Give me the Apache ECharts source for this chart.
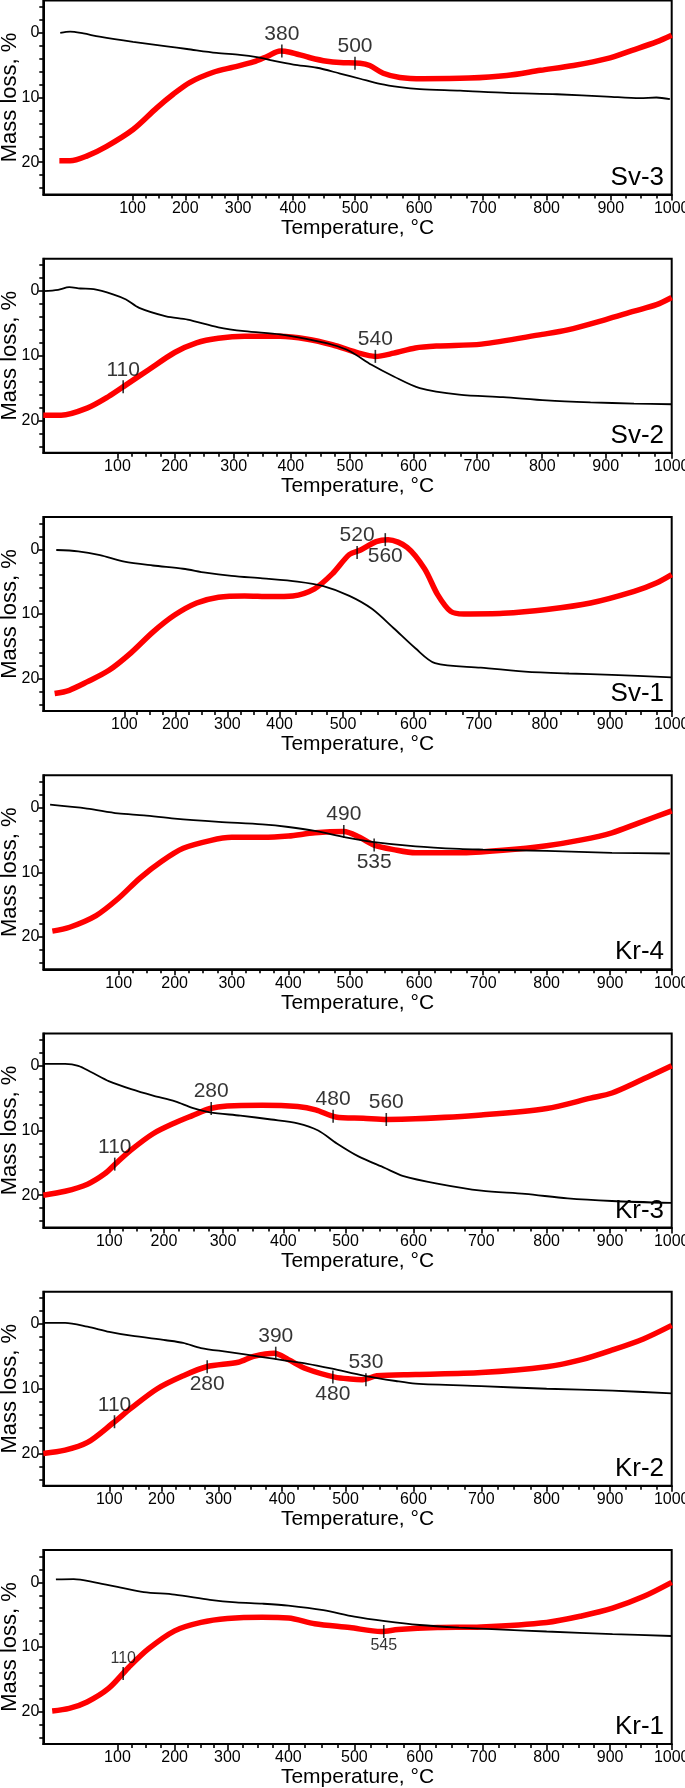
<!DOCTYPE html>
<html>
<head>
<meta charset="utf-8">
<script src="https://cdn.jsdelivr.net/npm/echarts@6/dist/echarts.min.js"></script>
<style>
html,body{margin:0;padding:0;background:#fff;}
#chart{width:685px;height:1788px;}
</style>
</head>
<body>
<div id="chart"></div>
<script>
// ---------------- DATA ----------------
const tempLabels = [100, 200, 300, 400, 500, 600, 700, 800, 900, 1000];
const massTicks = [0, 10, 20];
const panelNames = ['Sv-3', 'Sv-2', 'Sv-1', 'Kr-4', 'Kr-3', 'Kr-2', 'Kr-1'];

// Temperature scale of each record (instrument time axis): where each temperature label sits, in 1/1000 of the axis length
const sv3Scale = [142, 226, 310, 397, 496, 598, 700, 801, 903, 1000];
const sv2Scale = [118, 209, 303, 394, 488, 589, 690, 794, 895, 1000];
const sv1Scale = [129, 210, 293, 376, 477, 589, 693, 798, 902, 1000];
const kr4Scale = [120, 209, 300, 390, 488, 598, 700, 801, 902, 1000];
const kr3Scale = [105, 192, 286, 382, 481, 589, 697, 801, 902, 1000];
const kr2Scale = [105, 188, 279, 380, 481, 589, 697, 801, 902, 1000];
const kr1Scale = [118, 209, 293, 390, 495, 599, 700, 801, 902, 1000];

// [temperature °C, mass loss %]
const sv3Mass = [[19,0],[30,-0.2],[45,0.1],[63,0.6],[101,1.4],[165,2.1],[203,2.5],[259,3.1],[303,3.4],[334,3.75],[364,4.3],[401,4.9],[439,5.4],[476,6.3],[508,7.1],[539,7.9],[570,8.4],[601,8.7],[664,8.95],[737,9.3],[816,9.5],[894,9.85],[948,10.1],[975,10.0],[997,10.25]];
const sv3Dta  = [[18,19.8],[30,19.8],[48,19.1],[71,17.55],[101,14.95],[146,11.6],[177,9.5],[209,7.65],[253,6.1],[291,5.3],[328,4.5],[353,3.65],[377,2.8],[395,3.0],[428,3.85],[455,4.4],[476,4.6],[508,4.7],[523,5.05],[544,6.25],[570,6.9],[606,7.1],[678,7.0],[737,6.6],[790,5.8],[842,5.05],[894,4.0],[935,2.7],[975,1.4],[1000,0.36]];
const sv3Marks = [[380,2.8,'380','top'],[500,4.7,'500','top']];

const sv2Mass = [[0,0],[20,-0.2],[35,-0.6],[50,-0.4],[68,-0.3],[94,0.5],[115,1.3],[138,2.6],[185,3.9],[222,4.4],[274,5.6],[319,6.2],[381,6.7],[426,7.4],[470,8.3],[500,9.3],[534,11.4],[569,13.2],[610,15.0],[672,16.0],[740,16.4],[807,16.9],[876,17.2],[943,17.4],[1000,17.5]];
const sv2Dta  = [[0,19.2],[24,19.2],[59,18.1],[88,16.3],[115,14.5],[154,12.2],[200,9.5],[237,8.0],[274,7.3],[319,7.0],[381,7.0],[426,7.4],[470,8.3],[514,9.6],[540,10.1],[569,9.6],[603,8.8],[638,8.5],[707,8.2],[800,6.7],[840,6.0],[900,4.4],[943,3.1],[977,2.1],[1000,1.0]];
const sv2Marks = [[110,14.8,'110','top'],[540,10.1,'540','top']];

const sv1Mass = [[16,0.1],[43,0.3],[70,0.9],[100,1.9],[156,2.5],[215,3.0],[258,3.6],[308,4.1],[367,4.5],[428,5.0],[469,5.7],[509,7.2],[541,9.2],[572,12.2],[603,15.3],[633,17.6],[703,18.3],[770,18.9],[837,19.2],[903,19.4],[1000,19.8]];
const sv1Dta  = [[14,22.3],[32,21.8],[54,20.5],[81,18.7],[113,16.0],[156,12.8],[198,10.2],[241,8.3],[283,7.4],[333,7.2],[383,7.3],[421,7.2],[455,6.1],[483,3.8],[509,0.8],[525,0.1],[547,-1.2],[564,-1.5],[591,-0.3],[617,3.0],[637,7.0],[657,9.6],[677,10.0],[737,9.9],[803,9.3],[870,8.3],[939,6.5],[975,5.2],[1000,3.9]];
const sv1Marks = [[520,0.5,'520','top'],[560,-1.5,'560','bottom']];

const kr4Mass = [[9,-0.45],[58,0.15],[99,0.9],[145,1.2],[200,1.7],[277,2.2],[354,2.6],[400,3.0],[443,3.6],[493,4.6],[532,5.3],[595,6.0],[663,6.4],[700,6.5],[800,6.7],[903,7.0],[997,7.1]];
const kr4Dta  = [[12,19.1],[35,18.5],[70,16.7],[99,14.1],[138,10.9],[177,8.3],[215,6.3],[262,5.1],[300,4.6],[354,4.6],[400,4.4],[443,3.9],[490,3.7],[514,4.6],[535,5.8],[563,6.5],[595,7.0],[663,7.0],[731,6.6],[800,5.9],[855,5.0],[903,3.9],[946,2.4],[1000,0.5]];
const kr4Marks = [[490,3.7,'490','top'],[535,5.8,'535','bottom']];

const kr3Mass = [[0,-0.3],[33,-0.3],[53,0.0],[73,1.0],[100,2.4],[140,3.6],[180,4.6],[219,5.5],[248,6.5],[278,7.2],[329,7.7],[380,8.3],[423,8.9],[456,10.0],[486,12.0],[519,14.0],[558,15.8],[584,17.0],[635,18.2],[700,19.3],[767,19.8],[833,20.5],[903,20.9],[1000,21.2]];
const kr3Dta  = [[0,20.0],[33,19.4],[67,18.3],[93,16.7],[112,15.1],[140,13.0],[180,10.5],[219,8.8],[248,7.7],[278,6.6],[307,6.2],[365,6.1],[423,6.3],[452,6.8],[484,7.9],[526,8.1],[561,8.3],[603,8.2],[700,7.6],[800,6.6],[869,5.0],[903,4.2],[946,2.4],[1000,0.0]];
const kr3Marks = [[110,15.2,'110','top'],[280,6.6,'280','top'],[480,7.8,'480','top'],[560,8.3,'560','top']];

const kr2Mass = [[0,-0.2],[33,-0.2],[67,0.4],[100,1.2],[142,1.8],[208,2.5],[238,2.9],[269,3.7],[314,4.3],[369,5.1],[403,5.6],[438,6.1],[479,6.9],[528,8.0],[574,8.8],[603,9.2],[700,9.6],[800,10.0],[904,10.3],[1000,10.7]];
const kr2Dta  = [[0,20.0],[33,19.5],[67,18.3],[107,15.3],[142,13.0],[192,10.0],[238,8.0],[279,6.6],[331,5.9],[355,5.0],[388,4.5],[410,5.5],[438,6.9],[483,8.2],[507,8.5],[525,8.6],[546,8.0],[603,7.8],[700,7.5],[800,6.6],[855,5.5],[904,4.0],[954,2.3],[1000,0.2]];
const kr2Marks = [[110,15.1,'110','top'],[280,6.6,'280','bottom'],[390,4.5,'390','top'],[480,8.2,'480','bottom'],[530,8.6,'530','top']];

const kr1Mass = [[17,-0.45],[41,-0.5],[71,0.05],[100,0.7],[146,1.5],[200,1.9],[267,2.7],[314,3.1],[357,3.3],[400,3.6],[453,4.3],[500,5.3],[547,6.0],[600,6.6],[662,7.0],[731,7.3],[800,7.6],[904,8.0],[1000,8.3]];
const kr1Dta  = [[12,19.9],[35,19.5],[59,18.5],[88,16.4],[119,13.2],[154,10.3],[200,7.5],[250,6.2],[300,5.6],[357,5.4],[400,5.5],[440,6.4],[493,7.0],[541,7.6],[567,7.3],[628,7.0],[697,6.9],[800,6.2],[855,5.2],[904,4.0],[954,2.2],[1000,0.0]];
const kr1Marks = [[110,14.1,'110','top'],[545,7.6,'545','bottom']];

// ---------------- BUILD ----------------
const panels = [
  {name: panelNames[0], scale: sv3Scale, mass: sv3Mass, dta: sv3Dta, marks: sv3Marks, markFont: 21},
  {name: panelNames[1], scale: sv2Scale, mass: sv2Mass, dta: sv2Dta, marks: sv2Marks, markFont: 21},
  {name: panelNames[2], scale: sv1Scale, mass: sv1Mass, dta: sv1Dta, marks: sv1Marks, markFont: 21},
  {name: panelNames[3], scale: kr4Scale, mass: kr4Mass, dta: kr4Dta, marks: kr4Marks, markFont: 21},
  {name: panelNames[4], scale: kr3Scale, mass: kr3Mass, dta: kr3Dta, marks: kr3Marks, markFont: 21},
  {name: panelNames[5], scale: kr2Scale, mass: kr2Mass, dta: kr2Dta, marks: kr2Marks, markFont: 21},
  {name: panelNames[6], scale: kr1Scale, mass: kr1Mass, dta: kr1Dta, marks: kr1Marks, markFont: 16}
];

const FONT = '"Liberation Sans", Arial, Helvetica, sans-serif';
const GRID_LEFT = 43.3, GRID_W = 628.4, GRID_H = 194, PITCH = 258.25, TOP0 = 0.5;

function makeMap(scale) {
  const T = [0].concat(tempLabels), U = [0].concat(scale);
  return function (t) {
    for (let i = 1; i < T.length; i++) {
      if (t <= T[i]) return U[i - 1] + (t - T[i - 1]) / (T[i] - T[i - 1]) * (U[i] - U[i - 1]);
    }
    return U[U.length - 1];
  };
}

const minorTemps = [];
for (let t = 125; t < 1000; t += 25) if (t % 100 !== 0) minorTemps.push(t);
const minorMass = [];
for (let v = -4; v <= 24; v += 2) if (v % 10 !== 0) minorMass.push(v);

const grids = [], xAxes = [], yAxes = [], series = [], graphics = [];

panels.forEach(function (p, i) {
  const toU = makeMap(p.scale);
  const top = TOP0 + PITCH * i;
  const majorU = tempLabels.map(toU);
  const minorU = minorTemps.map(toU);

  grids.push({
    left: GRID_LEFT, top: top, width: GRID_W, height: GRID_H,
    show: true, borderColor: '#000', borderWidth: 2, backgroundColor: 'transparent',
    containLabel: false, outerBoundsMode: 'none'
  });

  xAxes.push({
    gridIndex: i, type: 'value', min: 0, max: 1000, position: 'bottom',
    axisLine: {show: true, onZero: false, lineStyle: {color: '#000', width: 2}},
    axisTick: {show: true, customValues: majorU, length: 6, lineStyle: {color: '#000', width: 1.6}},
    axisLabel: {
      show: true, customValues: majorU, margin: 6, fontSize: 16, color: '#000', fontFamily: FONT,
      formatter: function (v) {
        let best = 0, d = Infinity;
        majorU.forEach(function (u, k) { if (Math.abs(u - v) < d) { d = Math.abs(u - v); best = k; } });
        return String(tempLabels[best]);
      }
    },
    splitLine: {show: false},
    name: 'Temperature, °C', nameLocation: 'middle', nameGap: 23, nameMoveOverlap: false,
    nameTextStyle: {fontSize: 21, color: '#000', fontFamily: FONT}
  });
  xAxes.push({
    gridIndex: i, type: 'value', min: 0, max: 1000, position: 'bottom',
    axisLine: {show: false, onZero: false},
    axisTick: {show: true, customValues: minorU, length: 4, lineStyle: {color: '#000', width: 1.6}},
    axisLabel: {show: false}, splitLine: {show: false}
  });

  yAxes.push({
    gridIndex: i, type: 'value', min: -5, max: 25, inverse: true, position: 'left',
    axisLine: {show: true, onZero: false, lineStyle: {color: '#000', width: 2}},
    axisTick: {show: true, customValues: massTicks, length: 5, lineStyle: {color: '#000', width: 1.6}},
    axisLabel: {show: true, customValues: massTicks, margin: 4, fontSize: 16, color: '#000', fontFamily: FONT},
    splitLine: {show: false},
    name: 'Mass loss, %', nameLocation: 'middle', nameGap: 22, nameMoveOverlap: false,
    nameTextStyle: {fontSize: 22, color: '#000', fontFamily: FONT}
  });
  yAxes.push({
    gridIndex: i, type: 'value', min: -5, max: 25, inverse: true, position: 'left',
    axisLine: {show: false, onZero: false},
    axisTick: {show: true, customValues: minorMass, length: 4, lineStyle: {color: '#000', width: 1.6}},
    axisLabel: {show: false}, splitLine: {show: false}
  });

  const xi = 2 * i, yi = 2 * i;
  series.push({
    type: 'line', xAxisIndex: xi, yAxisIndex: yi, z: 2,
    data: p.dta.map(function (d) { return [toU(d[0]), d[1]]; }),
    showSymbol: false, smooth: 0.3, silent: true,
    lineStyle: {color: '#ff0000', width: 5.5}
  });
  series.push({
    type: 'line', xAxisIndex: xi, yAxisIndex: yi, z: 3,
    data: p.mass.map(function (d) { return [toU(d[0]), d[1]]; }),
    showSymbol: false, smooth: 0.3, silent: true,
    lineStyle: {color: '#000', width: 1.8}
  });
  series.push({
    type: 'scatter', xAxisIndex: xi, yAxisIndex: yi, z: 4, silent: true,
    symbol: 'rect', symbolSize: [1.6, 13],
    itemStyle: {color: '#000'},
    label: {show: true, color: '#000', fontSize: p.markFont, fontFamily: FONT, distance: 0,
      formatter: function (prm) { return prm.name; }},
    data: p.marks.map(function (m) {
      return {name: m[2], value: [toU(m[0]), m[1]], label: {position: m[3]}};
    })
  });

  graphics.push({
    type: 'text', x: 664, y: top + 190, z: 10,
    style: {text: p.name, fontSize: 26, fontFamily: FONT, fill: '#000', align: 'right', verticalAlign: 'bottom'}
  });
});

const chart = echarts.init(document.getElementById('chart'), null, {renderer: 'canvas'});
chart.setOption({
  animation: false,
  backgroundColor: '#fff',
  grid: grids,
  xAxis: xAxes,
  yAxis: yAxes,
  series: series,
  graphic: graphics
});
</script>
</body>
</html>
